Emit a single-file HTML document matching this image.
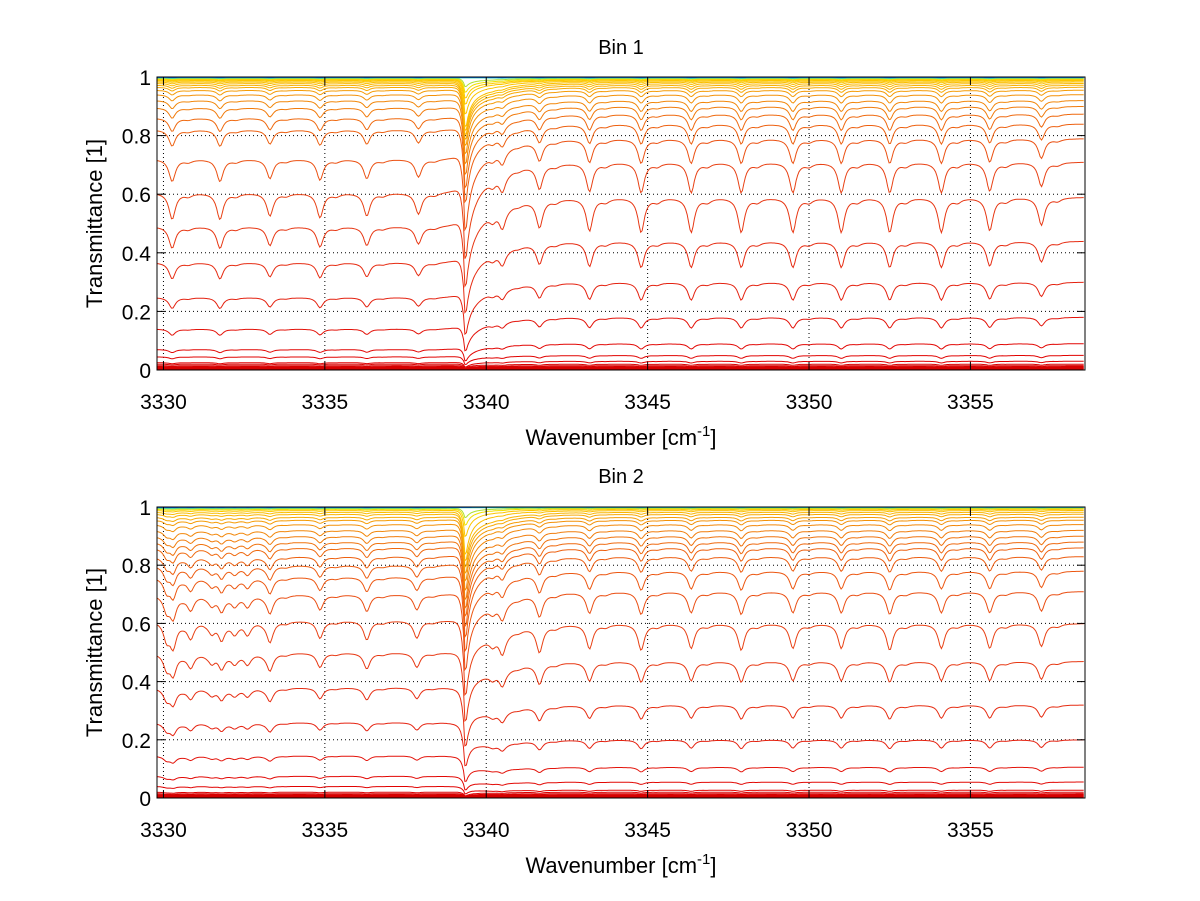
<!DOCTYPE html>
<html><head><meta charset="utf-8">
<style>
html,body{margin:0;padding:0;background:#fff;}
svg{display:block;font-family:"Liberation Sans",Arial,sans-serif;}
</style></head>
<body>
<svg id="chart" width="1200" height="901" viewBox="0 0 1200 901" xmlns="http://www.w3.org/2000/svg">
<rect x="0" y="0" width="1200" height="901" fill="#fff"/>
</svg>
<script>
// ---- data ----
const xTicks = [3330, 3335, 3340, 3345, 3350, 3355];
const yTicks = [0, 0.2, 0.4, 0.6, 0.8, 1];
const yTickLabels = ["0", "0.2", "0.4", "0.6", "0.8", "1"];
const lineCenters1 = [3330.27, 3331.75, 3333.3, 3334.85, 3336.3, 3337.9, 3340.2, 3340.5, 3341.65, 3343.2, 3344.8, 3346.35, 3347.9, 3349.5, 3351.0, 3352.5, 3354.1, 3355.6, 3357.2];
const lineStrengths1 = [0.75, 0.75, 0.65, 0.7, 0.65, 0.6, 0.25, 0.6, 0.8, 0.95, 1.0, 1.0, 1.0, 1.0, 1.0, 1.0, 1.0, 0.95, 0.8];
const lineCenters2 = [3330.1, 3330.3, 3330.85, 3331.5, 3331.8, 3332.2, 3332.6, 3333.3, 3334.85, 3336.3, 3337.85, 3340.2, 3340.5, 3341.65, 3343.2, 3344.8, 3346.35, 3347.9, 3349.5, 3351.0, 3352.5, 3354.1, 3355.6, 3357.2];
const lineStrengths2 = [0.5, 0.7, 0.4, 0.3, 0.5, 0.3, 0.35, 0.6, 0.5, 0.55, 0.5, 0.25, 0.6, 0.75, 0.7, 0.75, 0.7, 0.75, 0.7, 0.7, 0.75, 0.7, 0.7, 0.65];
const strongCenter = 3339.35;
const levelsLeft1  = [0.002,0.004,0.006,0.008,0.01,0.012,0.015,0.02,0.025,0.045,0.07,0.14,0.248,0.367,0.49,0.605,0.72,0.82,0.86,0.895,0.92,0.94,0.955,0.965,0.972,0.978,0.983,0.987,0.99,0.992,0.994,0.996,0.997,0.998,0.999,1.0,1.0];
const levelsRight1 = [0.002,0.004,0.006,0.008,0.01,0.012,0.015,0.02,0.03,0.05,0.09,0.18,0.30,0.44,0.59,0.71,0.79,0.84,0.874,0.90,0.92,0.94,0.955,0.965,0.972,0.978,0.983,0.987,0.99,0.992,0.994,0.996,0.997,0.998,0.999,1.0,1.0];
const levelsLeft2  = [0.002,0.004,0.006,0.008,0.01,0.012,0.015,0.02,0.04,0.075,0.145,0.26,0.38,0.50,0.61,0.70,0.76,0.80,0.83,0.86,0.88,0.90,0.92,0.94,0.955,0.965,0.975,0.982,0.988,0.992,0.995,0.997,0.998,0.999,1.0,1.0];
const levelsRight2 = [0.002,0.004,0.006,0.008,0.01,0.012,0.015,0.02,0.027,0.055,0.106,0.20,0.32,0.47,0.60,0.71,0.78,0.83,0.86,0.88,0.90,0.92,0.94,0.955,0.965,0.975,0.982,0.988,0.992,0.995,0.997,0.998,0.999,1.0,1.0,1.0];

// ---- layout ----
const XMIN = 3329.8, XMAX = 3358.55;
const panels = [
  {name:"bin-1", title:"Bin 1", left:157, right:1085, top:77, bottom:370, lc:lineCenters1, ls:lineStrengths1, L:levelsLeft1, R:levelsRight1, titleY:54, tickY:409, xlabY:445},
  {name:"bin-2", title:"Bin 2", left:157, right:1085, top:507, bottom:798, lc:lineCenters2, ls:lineStrengths2, L:levelsLeft2, R:levelsRight2, titleY:483, tickY:837, xlabY:873}
];
const NS = "http://www.w3.org/2000/svg";
const svg = document.getElementById("chart");
function mk(tag, attrs, parent){const e=document.createElementNS(NS,tag);for(const k in attrs)e.setAttribute(k,attrs[k]);(parent||svg).appendChild(e);return e;}

function colorFor(B, i, n){
  const fromTop = n-1-i;
  const cool = ["#00008f","#0000d0","#0050ff","#00b0f0","#40e0a0","#b0e030","#f0e000"];
  if (fromTop < cool.length) return cool[fromTop];
  const stops = [[0,[208,0,0]],[0.03,[225,0,0]],[0.2,[228,30,16]],[0.6,[232,64,20]],[0.85,[238,100,16]],[0.95,[244,150,8]],[0.99,[252,200,0]],[1,[255,215,0]]];
  for (let k=1;k<stops.length;k++){
    if (B<=stops[k][0]){
      const a=stops[k-1],b=stops[k],t=(B-a[0])/(b[0]-a[0]||1);
      const c=a[1].map((v,j)=>Math.round(v+(b[1][j]-v)*t));
      return "rgb("+c.join(",")+")";
    }
  }
  return "rgb(255,215,0)";
}

panels.forEach(p=>{
  const g = mk("g",{});
  
  
  const sx = v => p.left + (v-XMIN)/(XMAX-XMIN)*(p.right-p.left);
  const sy = v => p.bottom - v*(p.bottom-p.top);
  xTicks.forEach(t=>{
    const gl = mk("line",{x1:sx(t),x2:sx(t),y1:p.top,y2:p.bottom,stroke:"#000","stroke-width":1,"stroke-dasharray":"1,3"},g);
    
    
  });
  yTicks.forEach(t=>{
    const gl = mk("line",{x1:p.left,x2:p.right,y1:sy(t),y2:sy(t),stroke:"#000","stroke-width":1,"stroke-dasharray":"1,3"},g);
    
    
  });
  const clip = mk("clipPath",{id:"clip-"+p.name},g);
  mk("rect",{x:p.left,y:p.top-3,width:p.right-p.left,height:p.bottom-p.top+3},clip);
  const sg = mk("g",{"clip-path":"url(#clip-"+p.name+")"},g);
  const n = p.L.length;
  for (let i=0;i<n;i++){
    const Bl=p.L[i], Br=p.R[i];
    let d="";
    for (let x=XMIN; x<=XMAX+0.001; x+=0.045){
      const s = 1/(1+Math.exp(-(x-strongCenter-0.2)/0.25));
      const B = Bl + (Br-Bl)*s;
      const g1 = Math.min(1,(1-B)*2.5);
      let weak = 0;
      for (let k=0;k<p.lc.length;k++){
        const dx=(x-p.lc[k])/0.12;
        weak += p.ls[k]/(1+dx*dx);
        const dx2=(x-p.lc[k]-0.5)/0.14;
        weak += 0.12*p.ls[k]/(1+dx2*dx2);
      }
      let T = B*(1-Math.min(0.5,0.2*g1*weak));
      const fromTop = n-1-i;
      const g2 = fromTop<5 ? 0 : Math.min(1,(1-B)*60);
      const Ds = (0.1+0.6*Math.sqrt(1-B))*g2;
      const dx = x-strongCenter;
      const prof = dx<0 ? Math.exp(dx/0.07) : (0.55*Math.exp(-dx/0.12)+0.45*Math.exp(-dx/0.9));
      T *= (1-Ds*prof);
      d += (d?"L":"M")+sx(x).toFixed(1)+","+sy(T).toFixed(1);
    }
    const path = mk("path",{d:d,fill:"none",stroke:colorFor(Bl,i,n),"stroke-width":1},sg);
    
    
  }
  const box = mk("rect",{x:p.left,y:p.top,width:p.right-p.left,height:p.bottom-p.top,fill:"none",stroke:"#000","stroke-width":1},g);
  
  
  xTicks.forEach(t=>{
    mk("line",{x1:sx(t),x2:sx(t),y1:p.bottom,y2:p.bottom-8,stroke:"#000"},g);
    mk("line",{x1:sx(t),x2:sx(t),y1:p.top,y2:p.top+8,stroke:"#000"},g);
    const tl = mk("text",{x:sx(t),y:p.tickY,"text-anchor":"middle","font-size":21,fill:"#000"},g);
    tl.textContent = String(t);
    
    
  });
  yTicks.forEach((t,k)=>{
    mk("line",{x1:p.left,x2:p.left+8,y1:sy(t),y2:sy(t),stroke:"#000"},g);
    mk("line",{x1:p.right,x2:p.right-8,y1:sy(t),y2:sy(t),stroke:"#000"},g);
    const tl = mk("text",{x:p.left-6,y:sy(t)+8,"text-anchor":"end","font-size":21,fill:"#000"},g);
    tl.textContent = yTickLabels[k];
    
    
  });
  const title = mk("text",{x:(p.left+p.right)/2,y:p.titleY,"text-anchor":"middle","font-size":20,fill:"#000"},g);
  title.textContent = p.title;
  
  
  const xl = mk("text",{x:(p.left+p.right)/2,y:p.xlabY,"text-anchor":"middle","font-size":22,fill:"#000"},g);
  xl.innerHTML = 'Wavenumber [cm<tspan dy="-9" font-size="15">-1</tspan><tspan dy="9">]</tspan>';
  
  
  const cy=(p.top+p.bottom)/2;
  const yl = mk("text",{x:102,y:cy,"text-anchor":"middle","font-size":22,fill:"#000",transform:"rotate(-90 102 "+cy+")"},g);
  yl.textContent = "Transmittance [1]";
  
  
});
</script>
</body></html>
